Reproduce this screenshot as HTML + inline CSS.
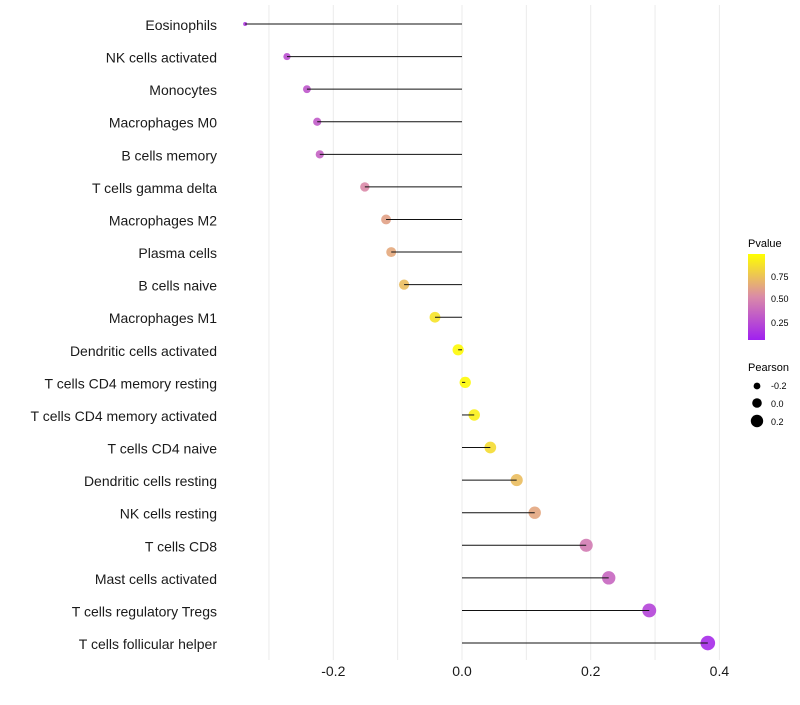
<!DOCTYPE html>
<html><head><meta charset="utf-8"><style>
body{margin:0;background:#fff;font-family:"Liberation Sans",sans-serif}
</style></head><body>
<svg id="c" width="800" height="700" xmlns="http://www.w3.org/2000/svg">
<defs><linearGradient id="pg" x1="0" y1="1" x2="0" y2="0">
<stop offset="0" stop-color="#A020F0"/><stop offset="0.5" stop-color="#DA8AA8"/><stop offset="1" stop-color="#FFFF00"/>
</linearGradient></defs>
<g id="grid"></g><g id="points"></g><g id="stems"></g><g id="labels"></g>
<g font-size="10" fill="#000">
<text x="748" y="247" font-size="11">Pvalue</text>
<rect x="748" y="254" width="17" height="86" fill="url(#pg)"/>
<text x="771" y="280" font-size="9">0.75</text>
<text x="771" y="302" font-size="9">0.50</text>
<text x="771" y="326" font-size="9">0.25</text>
<text x="748" y="371" font-size="11">Pearson</text>
<circle cx="757" cy="386" r="3.4"/>
<circle cx="757" cy="403" r="4.8"/>
<circle cx="757" cy="421" r="6.2"/>
<text x="771" y="389" font-size="9">-0.2</text>
<text x="771" y="407" font-size="9">0.0</text>
<text x="771" y="425" font-size="9">0.2</text>
</g>
</svg>
<script>
const categories=["Eosinophils","NK cells activated","Monocytes","Macrophages M0","B cells memory","T cells gamma delta","Macrophages M2","Plasma cells","B cells naive","Macrophages M1","Dendritic cells activated","T cells CD4 memory resting","T cells CD4 memory activated","T cells CD4 naive","Dendritic cells resting","NK cells resting","T cells CD8","Mast cells activated","T cells regulatory  Tregs","T cells follicular helper"];
const pearson=[-0.337,-0.272,-0.241,-0.225,-0.221,-0.151,-0.118,-0.110,-0.090,-0.042,-0.006,0.005,0.019,0.044,0.085,0.113,0.193,0.228,0.291,0.382];
const pvalue=[0.12,0.22,0.26,0.28,0.31,0.50,0.60,0.63,0.72,0.88,0.98,0.98,0.93,0.85,0.72,0.62,0.43,0.33,0.17,0.05];
const tickVals=[-0.2,0,0.2,0.4];
const tickLabels=["-0.2","0.0","0.2","0.4"];
const gridVals=[-0.3,-0.2,-0.1,0,0.1,0.2,0.3,0.4];
const NS="http://www.w3.org/2000/svg";
const x=v=>462+v*643.5;
const y=i=>24+i*32.58;
const pmin=Math.min(...pearson),pmax=Math.max(...pearson);
const rad=v=>2+5.3*Math.sqrt((v-pmin)/(pmax-pmin||1));
function lerp(a,b,t){return a.map((v,k)=>Math.round(v+(b[k]-v)*t));}
function col(p){const c0=[160,32,240],c1=[218,138,168],c2=[255,255,0];
 const c=p<0.5?lerp(c0,c1,p/0.5):lerp(c1,c2,(p-0.5)/0.5);return `rgb(${c.join(",")})`;}
function mk(t,a,parent){const e=document.createElementNS(NS,t);for(const k in a)e.setAttribute(k,a[k]);parent.appendChild(e);return e;}
const grid=document.getElementById('grid'),pts=document.getElementById('points'),stems=document.getElementById('stems'),labels=document.getElementById('labels');
gridVals.forEach(v=>{const l=mk('line',{x1:x(v),x2:x(v),y1:5,y2:660,stroke:'#ebebeb','stroke-width':1},grid);

});
categories.forEach((c,i)=>{
const d=mk('circle',{cx:x(pearson[i]),cy:y(i),r:rad(pearson[i]),fill:col(pvalue[i]),'fill-opacity':0.9},pts);


const l=mk('line',{x1:x(0),x2:x(pearson[i]),y1:y(i),y2:y(i),stroke:'#111','stroke-width':1},stems);


const t=mk('text',{x:217,y:y(i)+6,'text-anchor':'end','font-size':14,fill:'#1a1a1a'},labels);t.textContent=c;

});
tickVals.forEach((v,i)=>{const t=mk('text',{x:x(v),y:676,'text-anchor':'middle','font-size':14,fill:'#1a1a1a'},labels);t.textContent=tickLabels[i];

});
</script>
</body></html>
